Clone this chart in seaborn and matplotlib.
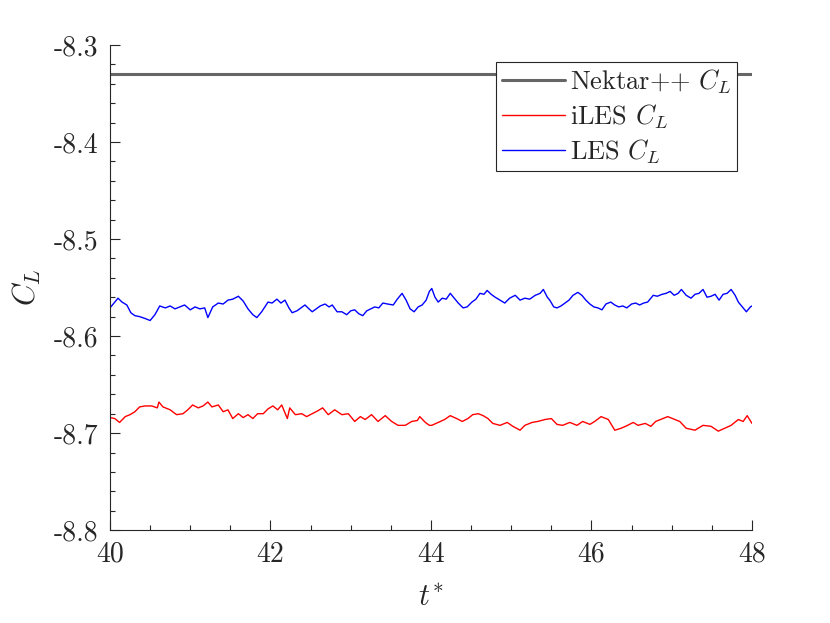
import numpy as np
import pandas as pd
import matplotlib
matplotlib.use('Agg')
import matplotlib.pyplot as plt
import seaborn as sns
from matplotlib.ticker import MultipleLocator, FormatStrFormatter

# reference (Nektar++) lift coefficient, constant
nektar_cl = -8.33
t_range = [40.0, 48.0]

# LES C_L
t_les = [40.00, 40.05, 40.10, 40.15, 40.21, 40.26, 40.31, 40.37, 40.44, 40.50,
         40.56, 40.62, 40.69, 40.75, 40.81, 40.87, 40.93, 41.00, 41.06, 41.12,
         41.18, 41.22, 41.28, 41.35, 41.41, 41.47, 41.53, 41.60, 41.66, 41.72,
         41.78, 41.83, 41.89, 41.97, 42.02, 42.08, 42.13, 42.18, 42.23, 42.27,
         42.33, 42.38, 42.43, 42.48, 42.52, 42.57, 42.62, 42.68, 42.73, 42.77,
         42.83, 42.89, 42.95, 43.00, 43.05, 43.10, 43.15, 43.20, 43.25, 43.30,
         43.35, 43.40, 43.46, 43.53, 43.58, 43.64, 43.69, 43.74, 43.79, 43.84,
         43.89, 43.94, 43.98, 44.01, 44.05, 44.09, 44.14, 44.19, 44.24, 44.29,
         44.34, 44.40, 44.45, 44.51, 44.56, 44.61, 44.66, 44.70, 44.75, 44.80,
         44.86, 44.92, 44.98, 45.05, 45.11, 45.17, 45.23, 45.30, 45.36, 45.40,
         45.45, 45.48, 45.53, 45.57, 45.62, 45.67, 45.72, 45.77, 45.83, 45.88,
         45.93, 45.98, 46.03, 46.08, 46.13, 46.18, 46.24, 46.29, 46.34, 46.39,
         46.44, 46.50, 46.55, 46.60, 46.65, 46.70, 46.77, 46.82, 46.88, 46.93,
         46.98, 47.03, 47.08, 47.12, 47.18, 47.24, 47.29, 47.34, 47.39, 47.44,
         47.49, 47.54, 47.59, 47.64, 47.69, 47.74, 47.79, 47.83, 47.88, 47.93,
         47.98, 48.00]
cl_les = [-8.571, -8.566, -8.561, -8.565, -8.568, -8.576, -8.579, -8.580, -8.582, -8.584,
          -8.578, -8.569, -8.571, -8.569, -8.572, -8.570, -8.568, -8.573, -8.570, -8.572,
          -8.571, -8.581, -8.570, -8.566, -8.567, -8.563, -8.562, -8.559, -8.564, -8.572,
          -8.578, -8.581, -8.575, -8.565, -8.566, -8.562, -8.566, -8.563, -8.571, -8.576,
          -8.574, -8.571, -8.568, -8.572, -8.575, -8.572, -8.569, -8.567, -8.570, -8.568,
          -8.575, -8.575, -8.578, -8.574, -8.573, -8.577, -8.579, -8.574, -8.572, -8.570,
          -8.571, -8.566, -8.567, -8.568, -8.562, -8.556, -8.563, -8.572, -8.575, -8.570,
          -8.568, -8.563, -8.554, -8.551, -8.560, -8.565, -8.561, -8.562, -8.556, -8.561,
          -8.566, -8.571, -8.570, -8.565, -8.562, -8.556, -8.557, -8.553, -8.557, -8.560,
          -8.563, -8.566, -8.561, -8.558, -8.563, -8.561, -8.562, -8.558, -8.556, -8.552,
          -8.560, -8.563, -8.570, -8.571, -8.569, -8.566, -8.563, -8.558, -8.555, -8.558,
          -8.563, -8.567, -8.570, -8.571, -8.573, -8.567, -8.565, -8.568, -8.570, -8.569,
          -8.571, -8.567, -8.566, -8.568, -8.566, -8.565, -8.558, -8.559, -8.557, -8.556,
          -8.554, -8.558, -8.556, -8.552, -8.558, -8.561, -8.557, -8.556, -8.552, -8.560,
          -8.559, -8.557, -8.563, -8.557, -8.556, -8.552, -8.558, -8.565, -8.570, -8.575,
          -8.570, -8.569]

# iLES C_L
t_iles = [40.00, 40.06, 40.12, 40.19, 40.25, 40.31, 40.37, 40.44, 40.52, 40.59,
          40.61, 40.66, 40.75, 40.83, 40.91, 40.97, 41.03, 41.10, 41.16, 41.22,
          41.27, 41.35, 41.41, 41.47, 41.53, 41.60, 41.66, 41.72, 41.78, 41.84,
          41.91, 41.97, 41.99, 42.03, 42.09, 42.14, 42.21, 42.24, 42.31, 42.39,
          42.45, 42.52, 42.59, 42.65, 42.72, 42.80, 42.89, 42.97, 43.05, 43.12,
          43.18, 43.26, 43.34, 43.43, 43.51, 43.59, 43.68, 43.76, 43.83, 43.86,
          43.93, 43.98, 44.01, 44.09, 44.17, 44.24, 44.32, 44.39, 44.46, 44.52,
          44.59, 44.65, 44.71, 44.77, 44.86, 44.95, 45.02, 45.11, 45.17, 45.26,
          45.33, 45.42, 45.50, 45.57, 45.64, 45.73, 45.82, 45.89, 45.98, 46.04,
          46.12, 46.21, 46.29, 46.37, 46.45, 46.52, 46.58, 46.67, 46.74, 46.80,
          46.89, 46.95, 47.04, 47.10, 47.18, 47.29, 47.39, 47.49, 47.58, 47.66,
          47.74, 47.83, 47.89, 47.94, 48.00]
cl_iles = [-8.684, -8.685, -8.689, -8.683, -8.681, -8.678, -8.673, -8.672, -8.672, -8.674,
           -8.668, -8.673, -8.676, -8.681, -8.680, -8.676, -8.671, -8.674, -8.672, -8.668,
           -8.673, -8.671, -8.678, -8.676, -8.685, -8.680, -8.684, -8.681, -8.685, -8.680,
           -8.680, -8.675, -8.674, -8.672, -8.676, -8.671, -8.685, -8.674, -8.681, -8.680,
           -8.683, -8.680, -8.677, -8.674, -8.681, -8.676, -8.681, -8.680, -8.688, -8.683,
           -8.686, -8.681, -8.688, -8.682, -8.688, -8.692, -8.692, -8.688, -8.687, -8.683,
           -8.689, -8.692, -8.692, -8.689, -8.686, -8.682, -8.685, -8.688, -8.685, -8.681,
           -8.680, -8.682, -8.685, -8.690, -8.692, -8.689, -8.693, -8.697, -8.692, -8.689,
           -8.688, -8.686, -8.685, -8.691, -8.692, -8.689, -8.692, -8.688, -8.691, -8.688,
           -8.683, -8.686, -8.697, -8.695, -8.692, -8.689, -8.692, -8.690, -8.693, -8.688,
           -8.685, -8.683, -8.686, -8.688, -8.695, -8.697, -8.692, -8.693, -8.698, -8.695,
           -8.692, -8.686, -8.688, -8.682, -8.690]

sns.set_theme(style='ticks')
plt.rcParams['font.family'] = ['cmr10', 'DejaVu Serif']
plt.rcParams['mathtext.fontset'] = 'cm'
plt.rcParams['axes.unicode_minus'] = False
plt.rcParams['axes.formatter.use_mathtext'] = True

fig = plt.figure(figsize=(8.3, 6.23), dpi=100)
ax = fig.add_axes([0.1325, 0.149, 0.7735, 0.779])

ax.axhline(nektar_cl, color='#666666', lw=2.2, label='Nektar++ $C_L$')
sns.lineplot(x=t_iles, y=cl_iles, ax=ax, color='#ff0000', lw=1.0,
             estimator=None, sort=False, label='iLES $C_L$')
sns.lineplot(x=t_les, y=cl_les, ax=ax, color='#0000ff', lw=1.0,
             estimator=None, sort=False, label='LES $C_L$')

ax.set_xlim(t_range)
ax.set_ylim(-8.8, -8.3)
ax.xaxis.set_major_locator(MultipleLocator(2))
ax.xaxis.set_minor_locator(MultipleLocator(0.5))
ax.yaxis.set_major_locator(MultipleLocator(0.1))
ax.yaxis.set_minor_locator(MultipleLocator(0.02))
ax.yaxis.set_major_formatter(FormatStrFormatter('%.1f'))
ax.xaxis.set_major_formatter(FormatStrFormatter('%d'))

for s in ['top', 'right']:
    ax.spines[s].set_visible(False)
for s in ['left', 'bottom']:
    ax.spines[s].set_color('#262626')
    ax.spines[s].set_linewidth(0.8)
ax.tick_params(which='both', direction='in', color='#262626', width=0.8,
               labelsize=20, labelcolor='#262626', pad=8)
ax.tick_params(which='major', length=7)
ax.tick_params(which='minor', length=3.5)

ax.set_xlabel(r'$t^{\!*}$', fontsize=22, labelpad=12)
ax.set_ylabel('$C_L$', fontsize=22, labelpad=8)

leg = ax.legend(loc='upper right', bbox_to_anchor=(0.977, 0.965), fontsize=19,
                frameon=True, fancybox=False, handlelength=2.4, handletextpad=0.2,
                borderpad=0.2, labelspacing=0.25, borderaxespad=0)
leg.get_frame().set_edgecolor('#262626')
leg.get_frame().set_linewidth(0.8)
leg.get_frame().set_alpha(1)

fig.savefig('out.png', dpi=100)
